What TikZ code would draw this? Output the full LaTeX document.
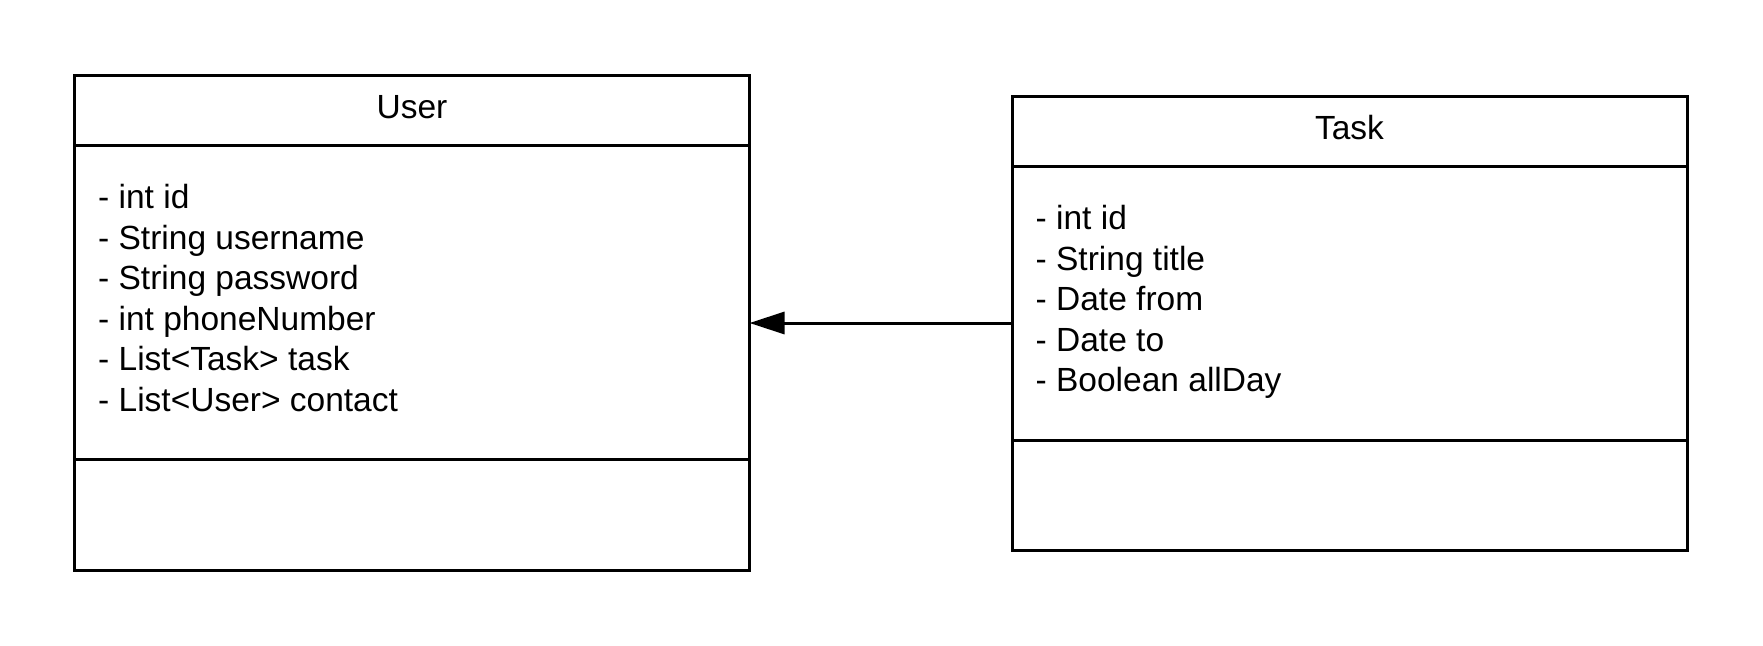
\documentclass[tikz,border=0pt]{standalone}
\usepackage{fontspec}
\setmainfont{Liberation Sans}
\usetikzlibrary{positioning,arrows.meta,calc}

\begin{document}
\begin{tikzpicture}[
    x=1pt, y=-1pt,
    font=\fontsize{33.5}{40.5}\selectfont,
    >={Triangle[length=35pt,width=22pt]},
    node distance=0pt,
    part/.style={
        draw=black,
        line width=3pt,
        minimum width=675pt,
        inner sep=0pt,
        outer sep=0pt
    },
    classname/.style={
        part,
        minimum height=70pt,
        text height=24pt,
        text depth=8pt
    },
    fieldlist/.style={
        anchor=north west,
        align=left,
        inner sep=0pt
    }
]
\useasboundingbox (0,0) rectangle (1763,645);

% User class
\node[classname, anchor=north west] (user) at (74.5,75) {User};
\node[part, minimum height=314pt, below=of user] (userattr) {};
\node[part, minimum height=111pt, below=of userattr] (userops) {};
\node[fieldlist] (userfields) at ($(userattr.north west)+(23.5,39.5)$) {- int id\\- String username\\- String password\\- int phoneNumber\\- List<Task> task\\- List<User> contact};

% Task class
\node[classname, anchor=north west] (task) at (1012,96) {Task};
\node[part, minimum height=274pt, below=of task] (taskattr) {};
\node[part, minimum height=110pt, below=of taskattr] (taskops) {};
\node[fieldlist] (taskfields) at ($(taskattr.north west)+(23.5,39.5)$) {- int id\\- String title\\- Date from\\- Date to\\- Boolean allDay};

% Association
\draw[->, line width=3pt] ([yshift=-20pt]taskattr.west) -- ([yshift=-20pt]taskattr.west -| userattr.east);

\end{tikzpicture}
\end{document}
